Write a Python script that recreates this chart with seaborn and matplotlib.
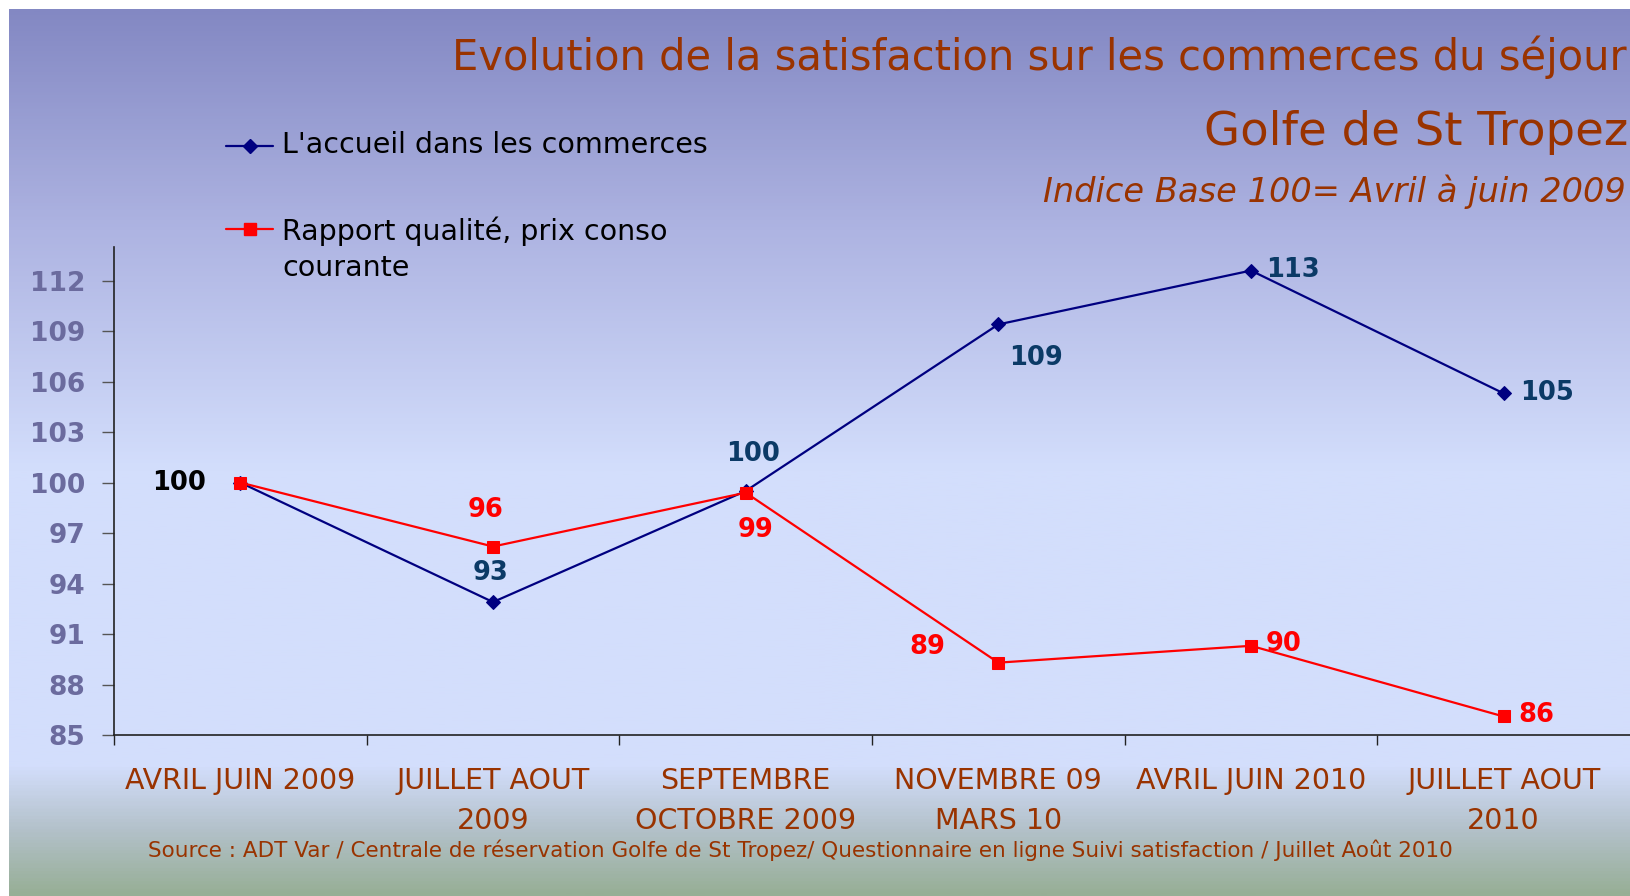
import matplotlib
matplotlib.use("Agg")
import matplotlib.pyplot as plt
import numpy as np
import pandas as pd
import seaborn as sns
from matplotlib.colors import LinearSegmentedColormap
from matplotlib.lines import Line2D

sns.set_style("ticks")
plt.rcParams["font.family"] = ["DejaVu Sans"]

PERIODS = ["AVRIL JUIN 2009", "JUILLET AOUT\n2009", "SEPTEMBRE\nOCTOBRE 2009",
           "NOVEMBRE 09\nMARS 10", "AVRIL JUIN 2010", "JUILLET AOUT\n2010"]
ACCUEIL = [100, 92.9, 99.5, 109.4, 112.6, 105.3]
QUALITE_PRIX = [100, 96.2, 99.4, 89.3, 90.3, 86.1]
Y_TICKS = [85, 88, 91, 94, 97, 100, 103, 106, 109, 112]

NAME_ACCUEIL = "L'accueil dans les commerces"
NAME_QP = "Rapport qualité, prix conso\ncourante"

TITLE = "Evolution de la satisfaction sur les commerces du séjour"
SUBTITLE = "Golfe de St Tropez"
BASE_NOTE = "Indice Base 100= Avril à juin 2009"
SOURCE = ("Source : ADT Var / Centrale de réservation Golfe de St Tropez/ "
          "Questionnaire en ligne Suivi satisfaction / Juillet Août 2010")

BROWN = "#993300"
NAVY = "#000080"
RED = "#FF0000"
LABEL_NAVY = "#0B3A66"
TICK_PURPLE = "#6B6B9E"

# label offsets in pixels (x, y up) for each point, None = no label
ACCUEIL_OFFSETS = [(-61, 0), (-2, 29), (7, 37), (38, -34), (42, 1), (43, 0)]
QP_OFFSETS = [None, (-7, 37), (10, -37), (-71, 16), (33, 2), (33, 1)]

W, H = 1630, 896
fig = plt.figure(figsize=(W / 100, H / 100), dpi=100)
fig.patch.set_facecolor("white")

# gradient background (white strip at top and left like the slide export)
x0, top = 9 / W, 9 / H
bg = fig.add_axes([x0, 0, 1 - x0, 1 - top], zorder=-10)
cmap = LinearSegmentedColormap.from_list(
    "bg", [(0, "#97AF96"), (0.07, "#B2C0C8"), (0.145, "#D3DEFC"), (0.48, "#D3DEFC"),
           (0.75, "#AEB4E2"), (1, "#8388C3")])
bg.imshow(np.linspace(0, 1, 600).reshape(-1, 1), aspect="auto", cmap=cmap,
          origin="lower", extent=[0, 1, 0, 1])
bg.axis("off")

ax = fig.add_axes([114 / W, (H - 735) / H, (W - 114) / W, (735 - 247) / H], zorder=1)
ax.patch.set_alpha(0)

df = pd.DataFrame({"pos": range(len(PERIODS)), "accueil": ACCUEIL, "qp": QUALITE_PRIX})
sns.lineplot(data=df, x="pos", y="accueil", ax=ax, color=NAVY, lw=1.6,
             marker="D", markersize=7.5, markeredgecolor=NAVY)
sns.lineplot(data=df, x="pos", y="qp", ax=ax, color=RED, lw=1.6,
             marker="s", markersize=8.5, markeredgecolor=RED)

for i, (v, off) in enumerate(zip(ACCUEIL, ACCUEIL_OFFSETS)):
    ax.annotate(f"{v:.0f}", (i, v), xytext=off, textcoords="offset pixels",
                ha="center", va="center", fontsize=18.5, fontweight="bold",
                color="black" if i == 0 else LABEL_NAVY)
for i, (v, off) in enumerate(zip(QUALITE_PRIX, QP_OFFSETS)):
    if off is None:
        continue
    ax.annotate(f"{v:.0f}", (i, v), xytext=off, textcoords="offset pixels",
                ha="center", va="center", fontsize=18.5, fontweight="bold", color=RED)

ax.set_xlim(-0.5, len(PERIODS) - 0.5)
ax.set_ylim(85, 114)
ax.set_yticks(Y_TICKS)
ax.set_yticklabels([str(t) for t in Y_TICKS], fontsize=19, fontweight="bold",
                   color=TICK_PURPLE)
ax.set_xticks(np.arange(-0.5, len(PERIODS) - 0.5, 1))
ax.set_xticklabels([])
ax.set_xticks(range(len(PERIODS)), minor=True)
ax.set_xticklabels(PERIODS, minor=True, fontsize=20.5, color=BROWN, linespacing=1.55)
ax.tick_params(axis="x", which="major", length=7, width=1, color="#222222", direction="out")
ax.tick_params(axis="x", which="minor", length=0, pad=23)
ax.tick_params(axis="y", length=8.5, width=1, color="#555555", pad=12)
ax.set_xlabel("")
ax.set_ylabel("")
for s in ["top", "right"]:
    ax.spines[s].set_visible(False)
for s in ["left", "bottom"]:
    ax.spines[s].set_color("#222222")
    ax.spines[s].set_linewidth(1.2)

# titles
fig.text(1627 / W, (H - 70) / H, TITLE, ha="right", va="baseline", fontsize=30, color=BROWN)
fig.text(1628 / W, (H - 145) / H, SUBTITLE, ha="right", va="baseline", fontsize=33.5, color=BROWN)
fig.text(1626 / W, (H - 202) / H, BASE_NOTE, ha="right", va="baseline", fontsize=24.2,
         color=BROWN, style="italic")
fig.text(148 / W, (H - 857) / H, SOURCE, ha="left", va="baseline", fontsize=15.5, color=BROWN)

# legend keys, drawn at the top left like the original
for name, color, marker, ms, ky, ty in [(NAME_ACCUEIL, NAVY, "D", 7.5, 146, 131),
                                       (NAME_QP, RED, "s", 8.5, 229, 216)]:
    fig.add_artist(Line2D([226 / W, 250 / W, 273 / W], [(H - ky) / H] * 3,
                          transform=fig.transFigure, color=color, lw=1.6,
                          marker=marker, markersize=ms, markevery=[1],
                          markeredgecolor=color))
    fig.text(282 / W, (H - ty) / H, name, ha="left", va="top", fontsize=20.5,
             color="black", linespacing=1.4)

fig.savefig("out.png", dpi=100, facecolor=fig.get_facecolor())
